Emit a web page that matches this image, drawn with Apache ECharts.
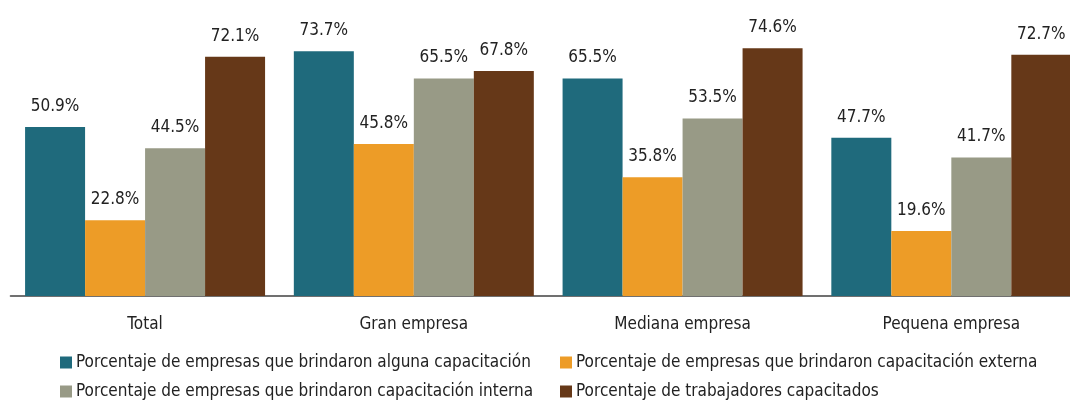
<!DOCTYPE html>
<html>
<head>
<meta charset="utf-8">
<script src="https://cdn.jsdelivr.net/npm/echarts@6/dist/echarts.min.js"></script>
<style>
html,body{margin:0;padding:0;background:#fff;}
#c{width:1070px;height:402px;}
</style>
</head>
<body>
<div id="c"></div>
<script>
var categories = ['Total', 'Gran empresa', 'Mediana empresa', 'Pequena empresa'];
var seriesNames = [
  'Porcentaje de empresas que brindaron alguna capacitación',
  'Porcentaje de empresas que brindaron capacitación externa',
  'Porcentaje de empresas que brindaron capacitación interna',
  'Porcentaje de trabajadores capacitados'
];
var alguna = [50.9, 73.7, 65.5, 47.7];
var externa = [22.8, 45.8, 35.8, 19.6];
var interna = [44.5, 65.5, 53.5, 41.7];
var trabajadores = [72.1, 67.8, 74.6, 72.7];
var colors = ['#1f6a7c', '#ed9c27', '#989a86', '#663818'];

var FONT = '"Liberation Sans Narrow", "DejaVu Sans Condensed", "Roboto", sans-serif';
var values = [alguna, externa, interna, trabajadores];

var chart = echarts.init(document.getElementById('c'), null, {renderer: 'canvas'});
var legendBase = {
  orient: 'vertical', itemGap: 12, padding: 0,
  width: 480, height: 60,
  itemWidth: 12, itemHeight: 12, icon: 'rect',
  textStyle: {fontSize: 17, color: '#222', fontFamily: FONT, padding: [0, 0, 0, -1]}
};
chart.setOption({
  animation: false,
  textStyle: {fontFamily: FONT},
  grid: {left: 10.7, top: 30.4, width: 1075, height: 265.6, containLabel: false, outerBoundsMode: 'none'},
  xAxis: {
    type: 'category',
    data: categories,
    axisLine: {show: true, lineStyle: {color: '#707070', width: 2}},
    axisTick: {show: false},
    axisLabel: {color: '#222', fontSize: 17, fontFamily: FONT, margin: 20}
  },
  yAxis: {
    type: 'value', min: 0, max: 80,
    show: false,
    splitLine: {show: false}
  },
  legend: [
    Object.assign({}, legendBase, {left: 60, top: 354, data: [seriesNames[0], seriesNames[2]]}),
    Object.assign({}, legendBase, {left: 560, top: 354, data: [seriesNames[1], seriesNames[3]]})
  ],
  series: values.map(function (v, i) {
    return {
      name: seriesNames[i],
      type: 'bar',
      data: v,
      barGap: '0%',
      barCategoryGap: '10.7%',
      itemStyle: {color: colors[i]},
      label: {
        show: true, position: 'top', distance: 12,
        formatter: function (p) { return p.value.toFixed(1) + '%'; },
        color: '#222', fontSize: 17, fontFamily: FONT
      }
    };
  })
});
</script>
</body>
</html>
